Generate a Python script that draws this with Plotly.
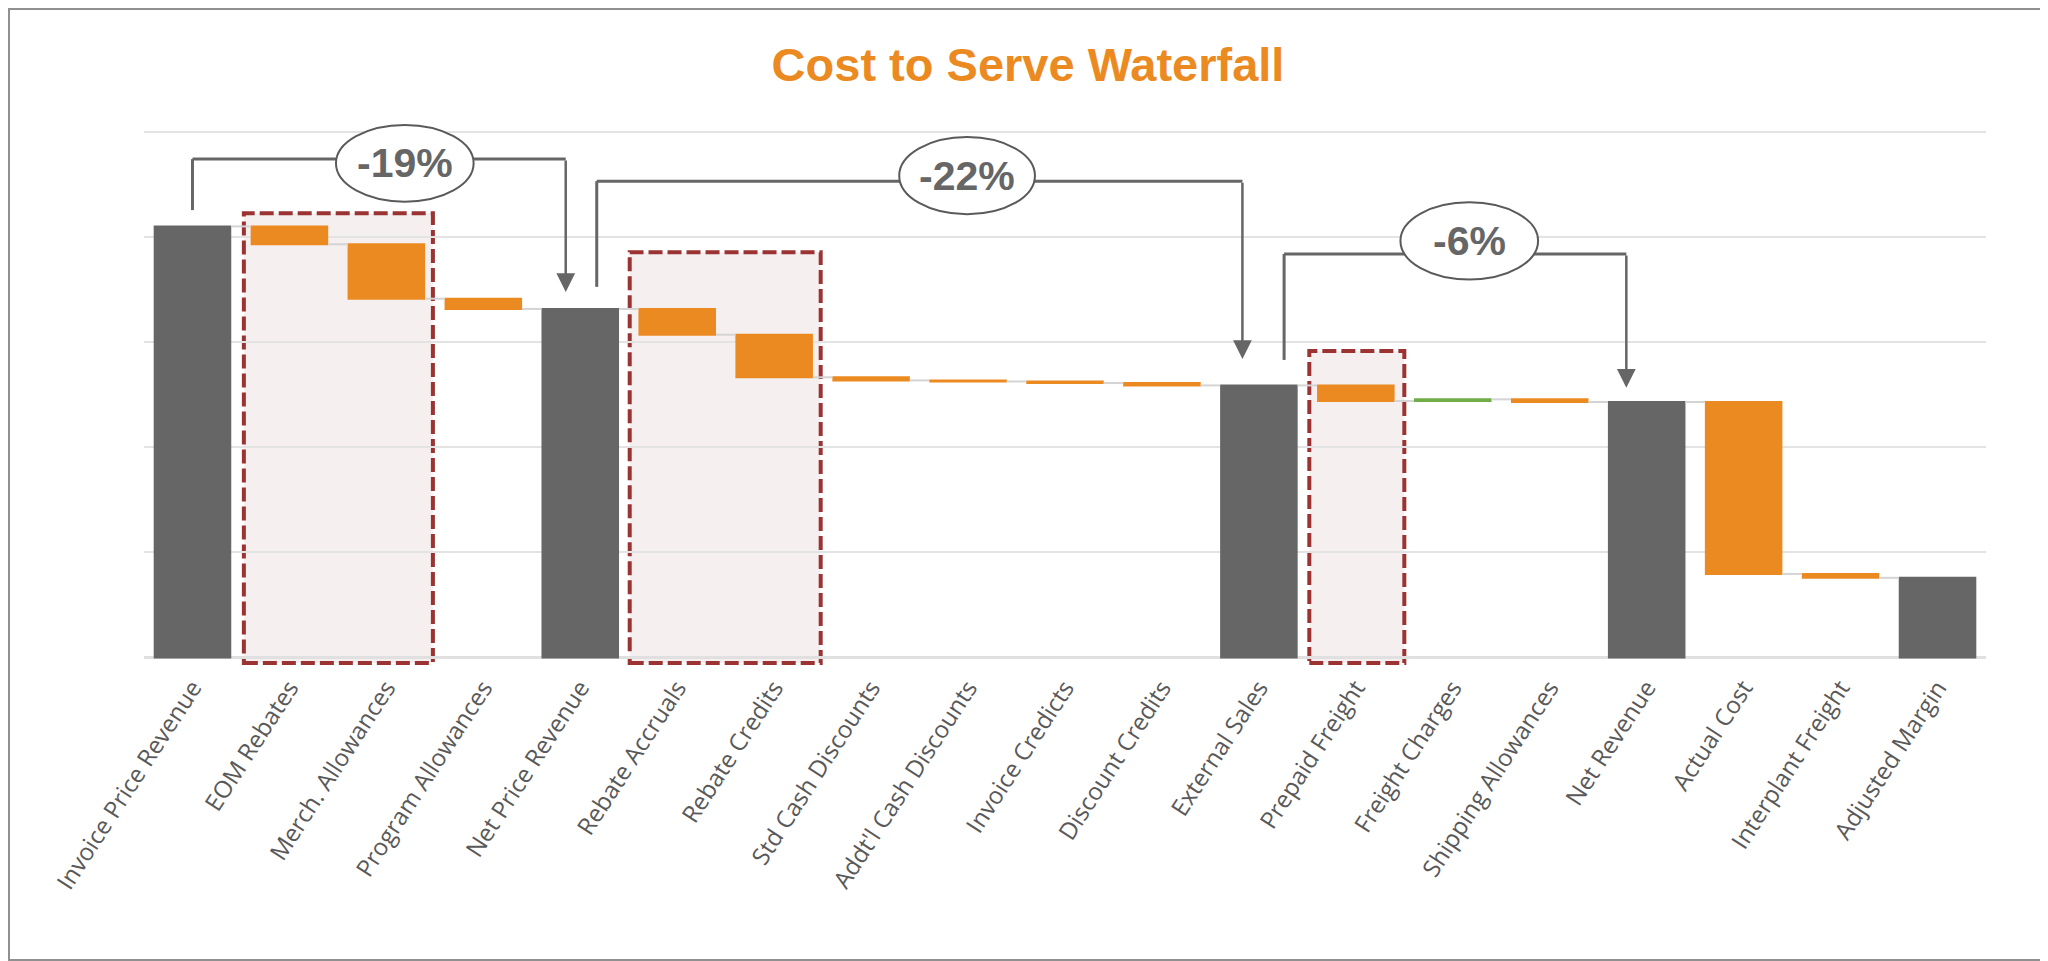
import plotly.graph_objects as go

# --- Data ---
categories = [
    'Invoice Price Revenue', 'EOM Rebates', 'Merch. Allowances', 'Program Allowances',
    'Net Price Revenue', 'Rebate Accruals', 'Rebate Credits', 'Std Cash Discounts',
    "Addt'l Cash Discounts", 'Invoice Credicts', 'Discount Credits', 'External Sales',
    'Prepaid Freight', 'Freight Charges', 'Shipping Allowances', 'Net Revenue',
    'Actual Cost', 'Interplant Freight', 'Adjusted Margin'
]
measures = [
    'absolute', 'relative', 'relative', 'relative',
    'total', 'relative', 'relative', 'relative',
    'relative', 'relative', 'relative', 'total',
    'relative', 'relative', 'relative', 'total',
    'relative', 'relative', 'total'
]
values = [
    82.0, -3.4, -10.35, -1.95,
    0, -4.9, -8.1, -0.6,
    -0.2, -0.3, -0.45, 0,
    -2.95, 0.3, -0.5, 0,
    -32.7, -0.75, 0
]
pct_labels = ['-19%', '-22%', '-6%']

# --- Styling ---
GRAY = '#666666'
ORANGE = '#EC8A22'
GREEN = '#70AD47'
RED = '#9B3333'
PINK = '#F5EFEF'
# page body has an 8px margin, so the figure is a bit smaller and shifted
W, H = 2040, 953
L, R, T, B = 136, 62, 108, 293
PW, PH = W - L - R, H - T - B
NARROW = 'Liberation Sans Narrow, Arial Narrow, Liberation Sans, Arial'

fig = go.Figure(go.Waterfall(
    x=categories, y=values, measure=measures,
    decreasing=dict(marker=dict(color=ORANGE)),
    increasing=dict(marker=dict(color=GREEN)),
    totals=dict(marker=dict(color=GRAY)),
    connector=dict(line=dict(color='#D4D4D4', width=2)),
    textinfo='none', hoverinfo='x+y',
))

# highlighted groups (dashed boxes): (left idx, right idx, top)
boxes = [(0.53, 2.48, 84.5), (4.51, 6.48, 77.1), (11.52, 12.50, 58.3)]
shapes = []
for x0, x1, top in boxes:
    shapes.append(dict(type='rect', xref='x', yref='y', x0=x0, x1=x1, y0=-1.05, y1=top,
                       fillcolor=PINK, line=dict(color=RED, width=4, dash='14px,5px'),
                       layer='below'))

# brackets: start idx, start y, top y, end idx, arrow tip y, ellipse box
brackets = [
    dict(x0=0.0, y0=85.1, top=94.8, x1=3.85, tip=69.5, ell=(1.48, 2.90, 86.7, 101.3)),
    dict(x0=4.17, y0=70.5, top=90.6, x1=10.83, tip=56.8, ell=(7.29, 8.69, 84.3, 99.0)),
    dict(x0=11.26, y0=56.6, top=76.75, x1=14.79, tip=51.3, ell=(12.46, 13.88, 71.9, 86.6)),
]
annotations = []
for br, lab in zip(brackets, pct_labels):
    ln = dict(color=GRAY, width=3)
    shapes.append(dict(type='line', xref='x', yref='y', x0=br['x0'], x1=br['x0'],
                       y0=br['y0'], y1=br['top'], line=ln))
    shapes.append(dict(type='line', xref='x', yref='y', x0=br['x0'], x1=br['x1'],
                       y0=br['top'], y1=br['top'], line=ln))
    ex0, ex1, ey0, ey1 = br['ell']
    shapes.append(dict(type='circle', xref='x', yref='y', x0=ex0, x1=ex1, y0=ey0, y1=ey1,
                       fillcolor='white', line=dict(color='#5A5A5A', width=2)))
    annotations.append(dict(x=br['x1'], y=br['tip'], ax=br['x1'], ay=br['top'],
                            xref='x', yref='y', axref='x', ayref='y', text='',
                            showarrow=True, arrowhead=2, arrowsize=1.5, arrowwidth=2.5,
                            arrowcolor=GRAY, standoff=0))
    annotations.append(dict(x=(ex0 + ex1) / 2, y=(ey0 + ey1) / 2, xref='x', yref='y',
                            text='<b>%s</b>' % lab, showarrow=False,
                            font=dict(family=NARROW, size=41, color=GRAY)))

# outer border of the picture
shapes.append(dict(type='rect', xref='paper', yref='paper',
                   x0=-(L - 1) / PW, x1=1 + (R - 1) / PW, y0=-(B - 1) / PH, y1=1 + (T - 1) / PH,
                   line=dict(color='#909090', width=2), fillcolor='rgba(0,0,0,0)'))

fig.update_layout(
    width=W, height=H,
    margin=dict(l=L, r=R, t=T, b=B),
    paper_bgcolor='white', plot_bgcolor='white',
    title=dict(text='<b>Cost to Serve Waterfall</b>', x=0.5, xref='container',
               y=1 - 57 / H, yref='container', xanchor='center', yanchor='middle',
               font=dict(family=NARROW, size=47, color=ORANGE)),
    showlegend=False,
    waterfallgap=0.2,
    shapes=shapes,
    annotations=annotations,
)
fig.update_xaxes(tickangle=-57, tickfont=dict(family='Open Sans', size=24, color='#595959'),
                 showgrid=False, showline=False, ticks='')
fig.update_yaxes(range=[-2, 103], tick0=0, dtick=20, showticklabels=False,
                 showgrid=True, gridcolor='#E3E3E3', gridwidth=2,
                 zeroline=True, zerolinecolor='#E0E0E0', zerolinewidth=3)

fig.write_html("out.html")
